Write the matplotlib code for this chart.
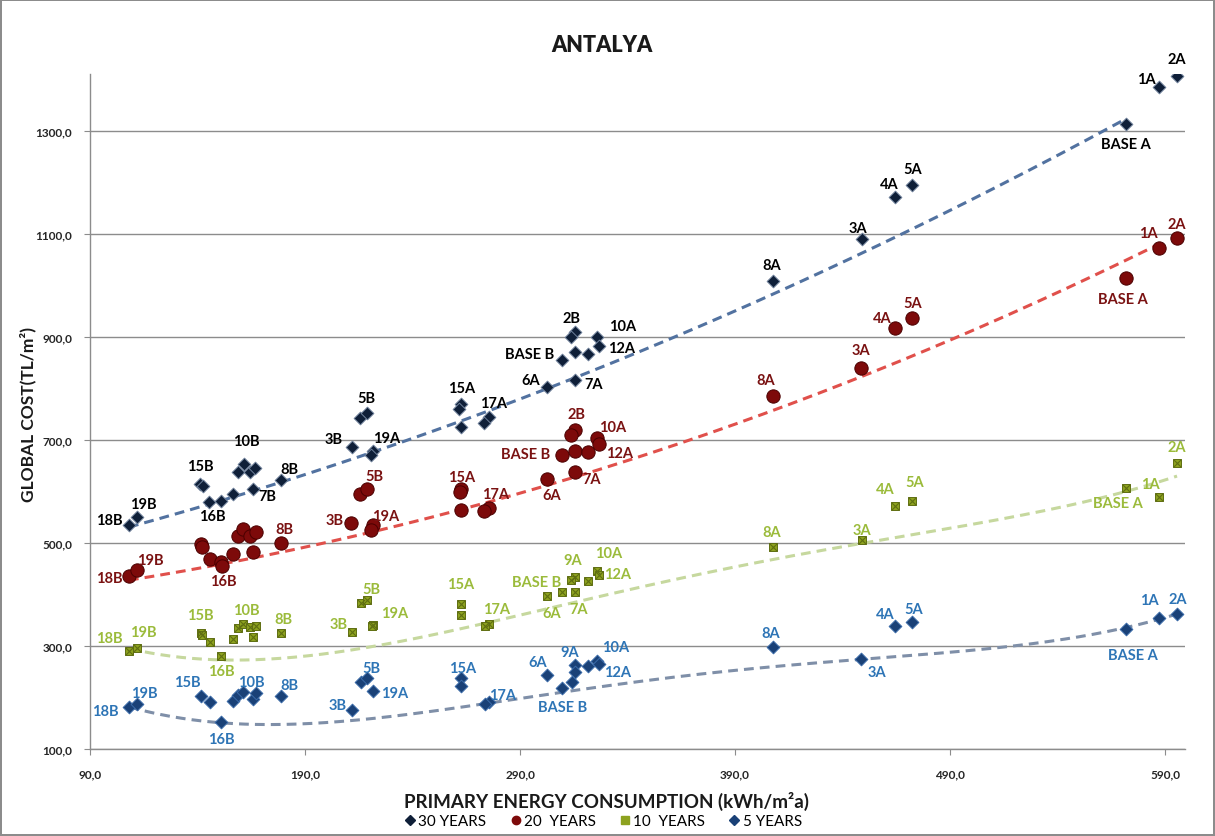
import numpy as np
import matplotlib.pyplot as plt
from matplotlib.lines import Line2D

plt.rcParams['font.family'] = ['Lato', 'DejaVu Sans']

# primary energy (kWh/m2a) and global cost (TL/m2) per design, four calculation periods
x30 = [108.1, 111.7, 141.2, 142.4, 145.5, 150.8, 156.7, 159.0, 161.8, 164.4, 166.7, 166.0, 178.7,
       211.7, 215.6, 218.7, 221.8, 220.7, 262.6, 261.8, 262.6, 275.6, 273.4,
       302.7, 309.7, 315.6, 313.6, 315.6, 315.6, 321.5, 325.7, 326.7,
       407.8, 448.9, 464.4, 472.3, 571.9, 587.3, 595.4]
y30 = [535, 551, 615, 610, 579, 582, 594, 638, 653, 638, 646, 604, 623,
       687, 743, 752, 679, 670, 770, 760, 725, 745, 733,
       802, 854, 910, 899, 870, 817, 866, 899, 883,
       1009, 1089, 1172, 1195, 1312, 1384, 1407]
n30 = ['18B', '19B', '15B', '', '16B', '', '', '', '10B', '', '', '7B', '8B',
       '3B', '', '5B', '19A', '', '15A', '', '', '17A', '',
       '6A', 'BASE B', '2B', '', '', '7A', '', '10A', '12A',
       '8A', '3A', '4A', '5A', 'BASE A', '1A', '2A']

x20 = [108.1, 111.7, 141.5, 142.2, 145.8, 150.8, 151.2, 156.7, 159.0, 161.3, 164.4, 167.1, 165.7, 178.7,
       211.4, 215.6, 218.7, 221.6, 220.7, 262.6, 262.1, 262.6, 275.6, 273.3,
       302.4, 309.7, 315.6, 313.6, 315.6, 315.6, 321.5, 325.7, 326.7,
       407.8, 448.6, 464.6, 472.5, 571.9, 587.3, 595.4]
y20 = [435, 448, 497, 492, 468, 463, 456, 479, 514, 527, 514, 521, 483, 500,
       539, 595, 604, 535, 525, 604, 598, 564, 568, 562,
       624, 670, 719, 709, 678, 637, 677, 703, 691,
       786, 840, 917, 936, 1014, 1073, 1092]
n20 = ['18B', '19B', '', '', '', '16B', '', '', '', '', '', '', '', '8B',
       '3B', '', '5B', '19A', '', '15A', '', '', '17A', '',
       '6A', 'BASE B', '2B', '', '', '7A', '', '10A', '12A',
       '8A', '3A', '4A', '5A', 'BASE A', '1A', '2A']

x10 = [108.3, 111.7, 141.5, 142.1, 145.8, 150.8, 156.7, 159.0, 161.3, 164.4, 167.1, 165.7, 178.7,
       211.7, 215.9, 218.7, 221.8, 221.0, 262.4, 262.6, 275.6, 273.7,
       302.6, 309.7, 315.6, 313.6, 315.6, 321.5, 325.7, 326.7,
       407.8, 448.9, 464.6, 472.5, 571.9, 587.3, 595.6]
y10 = [291, 296, 325, 321, 307, 280, 314, 335, 343, 336, 339, 317, 325,
       328, 384, 389, 341, 338, 382, 360, 343, 338,
       396, 404, 433, 428, 404, 427, 446, 438,
       492, 505, 571, 582, 607, 590, 655]
n10 = ['18B', '19B', '15B', '', '', '16B', '', '', '10B', '', '', '', '8B',
       '3B', '', '5B', '19A', '', '15A', '', '17A', '',
       '6A', 'BASE B', '9A', '', '7A', '', '10A', '12A',
       '8A', '3A', '4A', '5A', 'BASE A', '1A', '2A']

x5 = [108.3, 111.7, 141.5, 145.8, 150.8, 156.7, 159.0, 161.3, 165.7, 167.1, 178.7,
      211.7, 215.9, 218.7, 221.8, 262.4, 262.6, 275.6, 273.7,
      302.6, 309.7, 315.6, 315.6, 314.0, 321.5, 325.7, 326.7,
      407.8, 448.6, 464.6, 472.5, 571.9, 587.3, 595.6]
y5 = [181, 187, 202, 191, 152, 194, 204, 211, 198, 209, 202,
      176, 231, 237, 213, 237, 223, 191, 187,
      244, 218, 263, 249, 231, 261, 270, 265,
      298, 275, 339, 346, 333, 354, 362]
n5 = ['18B', '19B', '15B', '', '16B', '', '', '10B', '', '', '8B',
      '3B', '', '5B', '19A', '15A', '', '17A', '',
      '6A', 'BASE B', '9A', '', '', '', '10A', '12A',
      '8A', '3A', '4A', '5A', 'BASE A', '1A', '2A']

# designs on the cost-optimal front, used for the trendlines
front30 = [0, 4, 22, 28, 33, 36]
front20 = [0, 6, 23, 34, 38]
front10 = [0, 5, 21, 31, 35, 36]
front5 = [0, 4, 18, 28, 31, 32, 33]

legend_names = ['30 YEARS', '20  YEARS', '10  YEARS', '5 YEARS']
x_ticks = [90, 190, 290, 390, 490, 590]
y_ticks = [100, 300, 500, 700, 900, 1100, 1300]

# label offsets in pixels from each marker
off30 = {'18B': (-20, 5), '19B': (7, 13), '15B': (0, 18), '16B': (3, -14), '10B': (2, 23),
         '7B': (14, -7), '8B': (9, 11), '3B': (-18, 8), '5B': (0, 15), '19A': (13, 13),
         '15A': (0, 16), '17A': (4, 14), '6A': (-17, 7), 'BASE B': (-33, 6), '2B': (-4, 14),
         '7A': (19, -4), '10A': (26, 11), '12A': (23, -2), '8A': (-2, 16), '3A': (-4, 11),
         '4A': (-6, 13), '5A': (1, 16), '1A': (-13, 8), '2A': (0, 17), 'BASE A': (0, -20)}
off20 = {'18B': (-20, -2), '19B': (14, 10), '16B': (3, -19), '8B': (4, 14), '3B': (-16, 3),
         '5B': (8, 13), '19A': (13, 9), '15A': (0, 12), '17A': (6, 14), '6A': (5, -16),
         'BASE B': (-37, 1), '2B': (1, 16), '7A': (17, -7), '10A': (16, 11), '12A': (21, -9),
         '8A': (-8, 16), '3A': (0, 18), '4A': (-13, 10), '5A': (0, 15), '1A': (-11, 15),
         '2A': (0, 14), 'BASE A': (-3, -21)}
off10 = {'18B': (-20, 13), '19B': (7, 16), '15B': (0, 18), '16B': (1, -15), '10B': (3, 14),
         '8B': (3, 14), '3B': (-13, 8), '5B': (5, 11), '19A': (21, 12), '15A': (0, 20),
         '17A': (7, 15), '6A': (5, -17), 'BASE B': (-26, 10), '9A': (-2, 17), '7A': (4, -17),
         '10A': (12, 18), '12A': (19, 1), '8A': (-2, 15), '3A': (0, 10), '4A': (-10, 17),
         '5A': (2, 19), 'BASE A': (-8, -15), '1A': (-9, 13), '2A': (0, 16)}
off5 = {'18B': (-24, -4), '19B': (8, 11), '15B': (-13, 14), '16B': (1, -17), '10B': (8, 10),
        '8B': (9, 11), '3B': (-14, 5), '5B': (5, 10), '19A': (21, -2), '15A': (2, 10),
        '17A': (13, 7), '6A': (-9, 13), 'BASE B': (0, -19), '9A': (-5, 13), '10A': (19, 14),
        '12A': (19, -8), '8A': (-3, 14), '3A': (16, -13), '4A': (-10, 12), '5A': (1, 13),
        'BASE A': (7, -26), '1A': (-10, 18), '2A': (1, 15)}

W, H = 1215, 837
fig = plt.figure(figsize=(W / 100, H / 100), dpi=100)
fig.patch.set_edgecolor('#8c8c8c')
fig.patch.set_linewidth(1.5)
ax = fig.add_axes([90 / W, 1 - 750 / H, 1095 / W, 675 / H])

series = [
    dict(x=x30, y=y30, names=n30, off=off30, front=front30, marker='D', s=42, fc='#0f1f38',
         ec='#6d7f99', text='#000000', trend='#5272a0', deg=2),
    dict(x=x20, y=y20, names=n20, off=off20, front=front20, marker='o', s=92, fc='#7d0a0a',
         ec='#4a0000', text='#7a1212', trend='#e0504b', deg=2),
    dict(x=x10, y=y10, names=n10, off=off10, front=front10, marker='s', s=40, fc='#8da21f',
         ec='#5f6e12', text='#9bbb3b', trend='#c6d89e', deg=4),
    dict(x=x5, y=y5, names=n5, off=off5, front=front5, marker='D', s=42, fc='#1a4177',
         ec='#3a6aa8', text='#2e75b6', trend='#7f8fa8', deg=4),
]

for sr in series:
    fx = np.array(sr['x'])[sr['front']]
    fy = np.array(sr['y'])[sr['front']]
    # polynomial trendline through the front
    poly = np.polynomial.Polynomial.fit(fx, fy, sr['deg'])
    xt = np.linspace(fx.min(), fx.max(), 300)
    ax.plot(xt, poly(xt), color=sr['trend'], lw=2.2, ls=(0, (3.2, 2.0)), zorder=2)

for sr in series:
    ax.scatter(sr['x'], sr['y'], marker=sr['marker'], s=sr['s'], facecolor=sr['fc'],
               edgecolor=sr['ec'], linewidths=0.7, zorder=3)
    if sr['marker'] == 's':
        ax.scatter(sr['x'], sr['y'], marker='x', s=26, color='#5f6e12', linewidths=0.8, zorder=4)
    for xv, yv, nm in zip(sr['x'], sr['y'], sr['names']):
        if not nm:
            continue
        dx, dy = sr['off'][nm]
        ax.annotate(nm, (xv, yv), xytext=(dx, dy), textcoords='offset pixels',
                    ha='center', va='center', fontsize=10.5, fontweight='bold',
                    color=sr['text'], zorder=5)

ax.set_xlim(90, 599.3)
ax.set_ylim(100, 1410)
ax.set_xticks(x_ticks)
ax.set_yticks(y_ticks)
ax.set_xticklabels([f'{v:.1f}'.replace('.', ',') for v in x_ticks])
ax.set_yticklabels([f'{v:.1f}'.replace('.', ',') for v in y_ticks])
ax.tick_params(axis='both', labelsize=8.5, colors='#8c8c8c', labelcolor='#262626',
               length=4, width=0.8)
ax.tick_params(axis='x', pad=10)
ax.tick_params(axis='y', pad=9)
for lab in ax.get_xticklabels() + ax.get_yticklabels():
    lab.set_fontweight('bold')
ax.grid(axis='y', color='#8c8c8c', lw=1)
ax.set_axisbelow(True)
for side in ['top', 'right']:
    ax.spines[side].set_visible(False)
for side in ['left', 'bottom']:
    ax.spines[side].set_color('#8c8c8c')
    ax.spines[side].set_linewidth(1)

fig.text(602 / W, 1 - 45 / H, 'ANTALYA', ha='center', va='center', fontsize=15.5,
         fontweight='heavy', color='#1a1a1a')
fig.text(606 / W, 1 - 801 / H, 'PRIMARY ENERGY CONSUMPTION (kWh/m²a)', ha='center',
         va='center', fontsize=13.5, fontweight='bold', color='#1a1a1a')
fig.text(28 / W, 1 - 415 / H, 'GLOBAL COST(TL/m²)', ha='center', va='center',
         rotation=90, fontsize=12.5, fontweight='bold', color='#1a1a1a')

handles = [Line2D([], [], ls='none', marker=sr['marker'], ms=6 if sr['marker'] != 'D' else 5,
                  mfc=sr['fc'], mec=sr['fc']) for sr in series]
fig.legend(handles, legend_names, loc='center', bbox_to_anchor=(603 / W, 1 - 822 / H),
           ncol=4, frameon=False, fontsize=11, handletextpad=0.15, columnspacing=1.5,
           handlelength=0.8)

fig.savefig('out.png', dpi=100)
